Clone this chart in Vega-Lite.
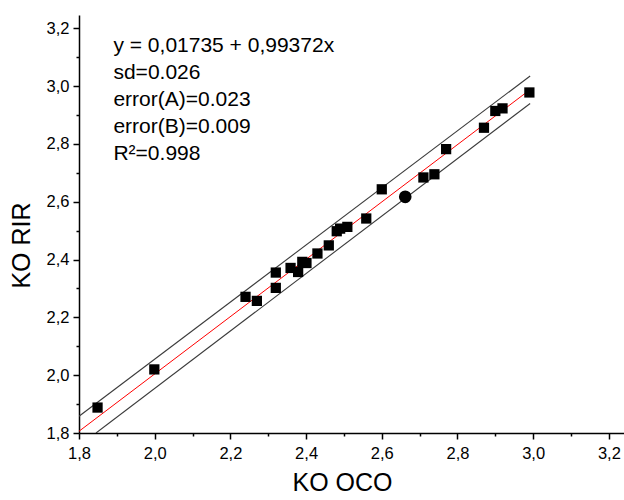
{
  "$schema": "https://vega.github.io/schema/vega-lite/v6.json",
  "width": 545,
  "height": 418,
  "autosize": {"type": "none"},
  "padding": {"left": 79, "top": 15, "right": 0, "bottom": 67},
  "background": "white",
  "config": {"view": {"stroke": null}, "font": "Liberation Sans"},
  "datasets": {
    "points": [
      {"x": 1.849, "y": 1.888},
      {"x": 1.999, "y": 2.020},
      {"x": 2.240, "y": 2.271},
      {"x": 2.270, "y": 2.257},
      {"x": 2.320, "y": 2.355},
      {"x": 2.320, "y": 2.302},
      {"x": 2.359, "y": 2.371},
      {"x": 2.379, "y": 2.357},
      {"x": 2.390, "y": 2.392},
      {"x": 2.401, "y": 2.388},
      {"x": 2.430, "y": 2.421},
      {"x": 2.460, "y": 2.449},
      {"x": 2.481, "y": 2.498},
      {"x": 2.490, "y": 2.507},
      {"x": 2.509, "y": 2.513},
      {"x": 2.559, "y": 2.542},
      {"x": 2.600, "y": 2.643},
      {"x": 2.710, "y": 2.684},
      {"x": 2.739, "y": 2.695},
      {"x": 2.770, "y": 2.782},
      {"x": 2.870, "y": 2.856},
      {"x": 2.900, "y": 2.914},
      {"x": 2.919, "y": 2.923},
      {"x": 2.990, "y": 2.978}
    ],
    "roundpoints": [
      {"x": 2.662, "y": 2.617}
    ],
    "lines": [
      {"series": "fit", "x": 1.8, "y": 1.806},
      {"series": "fit", "x": 2.992, "y": 2.988},
      {"series": "upper", "x": 1.8, "y": 1.858},
      {"series": "upper", "x": 2.992, "y": 3.035},
      {"series": "lower", "x": 1.845, "y": 1.8},
      {"series": "lower", "x": 2.992, "y": 2.940}
    ],
    "notes": [
      {"label": "y = 0,01735 + 0,99372x", "x": 1.891, "y": 3.117},
      {"label": "sd=0.026", "x": 1.891, "y": 3.024},
      {"label": "error(A)=0.023", "x": 1.891, "y": 2.931},
      {"label": "error(B)=0.009", "x": 1.891, "y": 2.838},
      {"label": "R²=0.998", "x": 1.891, "y": 2.744}
    ]
  },
  "encoding": {
    "x": {
      "field": "x", "type": "quantitative",
      "scale": {"domain": [1.8, 3.24], "nice": false, "zero": false},
      "axis": {
        "title": "KO OCO",
        "values": [1.8, 1.9, 2.0, 2.1, 2.2, 2.3, 2.4, 2.5, 2.6, 2.7, 2.8, 2.9, 3.0, 3.1, 3.2],
        "labelExpr": "round(datum.value*10) % 2 == 0 ? replace(format(datum.value, '.1f'), '.', ',') : ''",
        "tickSize": {"condition": {"test": "round(datum.value*10) % 2 == 0", "value": 6}, "value": 3},
        "grid": false,
        "domainColor": "black", "domainWidth": 1.5,
        "tickColor": "black", "tickWidth": 1.5,
        "labelColor": "black", "labelFontSize": 16.5, "labelFont": "Liberation Sans",
        "labelPadding": 6, "labelFlush": false, "labelOverlap": false,
        "titleFont": "Liberation Sans", "titleFontSize": 25, "titleFontWeight": "normal",
        "titleColor": "black", "titlePadding": 9, "titleX": 263
      }
    },
    "y": {
      "field": "y", "type": "quantitative",
      "scale": {"domain": [1.8, 3.246], "nice": false, "zero": false},
      "axis": {
        "title": "KO RIR",
        "values": [1.8, 1.9, 2.0, 2.1, 2.2, 2.3, 2.4, 2.5, 2.6, 2.7, 2.8, 2.9, 3.0, 3.1, 3.2],
        "labelExpr": "round(datum.value*10) % 2 == 0 ? replace(format(datum.value, '.1f'), '.', ',') : ''",
        "tickSize": {"condition": {"test": "round(datum.value*10) % 2 == 0", "value": 6}, "value": 3},
        "grid": false,
        "domainColor": "black", "domainWidth": 1.5,
        "tickColor": "black", "tickWidth": 1.5,
        "labelColor": "black", "labelFontSize": 16.5, "labelFont": "Liberation Sans",
        "labelPadding": 4, "labelFlush": false, "labelOverlap": false,
        "titleFont": "Liberation Sans", "titleFontSize": 25, "titleFontWeight": "normal",
        "titleColor": "black", "titlePadding": 12, "titleY": 230
      }
    }
  },
  "layer": [
    {
      "data": {"name": "lines"},
      "transform": [{"filter": "datum.series != 'fit'"}],
      "mark": {"type": "line", "color": "#3a3a3a", "strokeWidth": 1.1, "clip": true},
      "encoding": {"detail": {"field": "series"}}
    },
    {
      "data": {"name": "lines"},
      "transform": [{"filter": "datum.series == 'fit'"}],
      "mark": {"type": "line", "color": "#ff0000", "strokeWidth": 1, "clip": true},
      "encoding": {}
    },
    {
      "data": {"name": "points"},
      "mark": {"type": "point", "shape": "square", "filled": true, "color": "black", "size": 105, "opacity": 1},
      "encoding": {}
    },
    {
      "data": {"name": "roundpoints"},
      "mark": {"type": "point", "shape": "circle", "filled": true, "color": "black", "size": 160, "opacity": 1},
      "encoding": {}
    },
    {
      "data": {"name": "notes"},
      "mark": {"type": "text", "align": "left", "baseline": "alphabetic", "font": "Liberation Sans", "fontSize": 21, "color": "black"},
      "encoding": {"text": {"field": "label"}}
    }
  ]
}
